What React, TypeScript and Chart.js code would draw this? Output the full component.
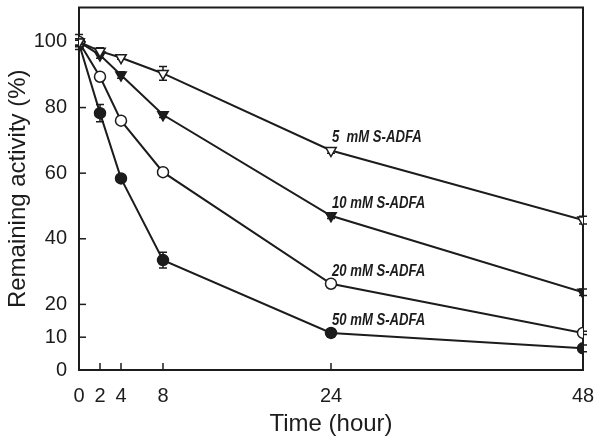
import React, { useEffect, useRef } from "react";
import { Chart, registerables } from "chart.js";

Chart.register(...registerables);

const times = [0, 2, 4, 8, 24, 48];
const xTickValues = [0, 2, 4, 8, 24, 48];
const yTickValues = [0, 10, 20, 40, 60, 80, 100];

const seriesLabels = ["5  mM S-ADFA", "10 mM S-ADFA", "20 mM S-ADFA", "50 mM S-ADFA"];
const mM5 = [100, 97.2, 95.2, 90.4, 66.9, 45.7];
const mM10 = [100, 96, 89.9, 77.8, 47, 23.7];
const mM20 = [100, 89.4, 76, 60.3, 26.3, 11.3];
const mM50 = [99.5, 78.3, 58.4, 33.5, 11.3, 6.6];

const err5 = [2.3, 1, 0.5, 2.1, 0.8, 1.2];
const err10 = [1, 1, 1, 0.8, 0.8, 1];
const err20 = [1, 1, 1, 0.8, 0.6, 0.5];
const err50 = [1, 2.6, 1, 2.4, 1.3, 1];

const INK = "#1c1c1c";
const FONT = '"Liberation Sans", Arial, sans-serif';

const errorsBySeries = [err5, err10, err20, err50];

const framePlugin = {
  id: "frameAndErrors",
  beforeDatasetsDraw(chart: any) {
    const { ctx, chartArea, scales } = chart;
    const { left, right, top, bottom } = chartArea;
    ctx.save();
    ctx.strokeStyle = INK;
    ctx.lineWidth = 2;
    ctx.strokeRect(left, top, right - left, bottom - top);
    ctx.lineWidth = 1.5;
    const tl = 7;
    xTickValues.forEach((v) => {
      const x = scales.x.getPixelForValue(v);
      ctx.beginPath();
      ctx.moveTo(x, bottom);
      ctx.lineTo(x, bottom - tl);
      ctx.stroke();
    });
    yTickValues.forEach((v) => {
      const y = scales.y.getPixelForValue(v);
      ctx.beginPath();
      ctx.moveTo(left, y);
      ctx.lineTo(left + tl, y);
      ctx.stroke();
    });
    ctx.lineWidth = 1.5;
    chart.data.datasets.forEach((ds: any, di: number) => {
      const errs = errorsBySeries[di];
      ds.data.forEach((pt: any, i: number) => {
        const x = scales.x.getPixelForValue(pt.x);
        const y1 = scales.y.getPixelForValue(pt.y + errs[i]);
        const y2 = scales.y.getPixelForValue(pt.y - errs[i]);
        ctx.beginPath();
        ctx.moveTo(x, y1);
        ctx.lineTo(x, y2);
        ctx.moveTo(x - 4, y1);
        ctx.lineTo(x + 4, y1);
        ctx.moveTo(x - 4, y2);
        ctx.lineTo(x + 4, y2);
        ctx.stroke();
      });
    });
    ctx.restore();
  },
  afterDatasetsDraw(chart: any) {
    const { ctx } = chart;
    chart.data.datasets.forEach((ds: any, di: number) => {
      const meta = chart.getDatasetMeta(di);
      const p = meta.data[4];
      ctx.save();
      ctx.fillStyle = INK;
      ctx.font = 'italic bold 16px "Liberation Sans", sans-serif';
      ctx.textAlign = "left";
      ctx.textBaseline = "middle";
      ctx.translate(p.x + 1, p.y - 12.5);
      ctx.scale(0.82, 1);
      ctx.fillText(seriesLabels[di], 0, 0);
      ctx.restore();
    });
  },
};

function mk(values: number[]) {
  return times.map((t, i) => ({ x: t, y: values[i] }));
}

export default function App() {
  const ref = useRef<HTMLCanvasElement | null>(null);
  useEffect(() => {
    if (!ref.current) return;
    const common = {
      borderColor: INK,
      borderWidth: 2,
      tension: 0,
      showLine: true,
      pointBorderColor: INK,
      pointBorderWidth: 1.5,
      pointHoverRadius: 6,
    };
    const chart = new Chart(ref.current, {
      type: "scatter",
      data: {
        datasets: [
          { ...common, label: seriesLabels[0], data: mk(mM5), pointStyle: "triangle", pointRotation: 180, pointRadius: 6, pointBackgroundColor: "#ffffff" },
          { ...common, label: seriesLabels[1], data: mk(mM10), pointStyle: "triangle", pointRotation: 180, pointRadius: 6, pointBackgroundColor: INK },
          { ...common, label: seriesLabels[2], data: mk(mM20), pointStyle: "circle", pointRadius: 5.5, pointBackgroundColor: "#ffffff" },
          { ...common, label: seriesLabels[3], data: mk(mM50), pointStyle: "circle", pointRadius: 5.5, pointBackgroundColor: INK },
        ],
      },
      options: {
        responsive: false,
        animation: false,
        layout: { padding: { top: 5, right: 19, left: 0, bottom: 0 } },
        plugins: { legend: { display: false }, tooltip: { enabled: false } },
        scales: {
          x: {
            type: "linear",
            min: 0,
            max: 48,
            afterBuildTicks: (s: any) => {
              s.ticks = xTickValues.map((v) => ({ value: v }));
            },
            afterFit: (s: any) => {
              s.height = 75;
              s.paddingLeft = 0;
              s.paddingRight = 0;
            },
            grid: { display: false, drawTicks: false },
            border: { display: false },
            ticks: { color: INK, font: { family: FONT, size: 20 }, padding: 14, maxRotation: 0, autoSkip: false },
            title: { display: true, text: "Time (hour)", color: INK, font: { family: FONT, size: 24 }, padding: { top: 0, bottom: 6 } },
          },
          y: {
            type: "linear",
            min: 0,
            max: 110.5,
            afterBuildTicks: (s: any) => {
              s.ticks = yTickValues.map((v) => ({ value: v }));
            },
            afterFit: (s: any) => {
              s.width = 79;
              s.paddingTop = 0;
              s.paddingBottom = 0;
            },
            grid: { display: false, drawTicks: false },
            border: { display: false },
            ticks: { color: INK, font: { family: FONT, size: 20 }, padding: 12, autoSkip: false },
            title: { display: true, text: "Remaining activity (%)", color: INK, font: { family: FONT, size: 24 }, padding: { top: 4, bottom: 0 } },
          },
        },
      },
      plugins: [framePlugin],
    } as any);
    return () => chart.destroy();
  }, []);
  return (
    <div style={{ position: "absolute", left: 0, top: 0, width: 602, height: 445, background: "#fff" }}>
      <canvas ref={ref} width={602} height={445} style={{ display: "block" }} />
    </div>
  );
}
